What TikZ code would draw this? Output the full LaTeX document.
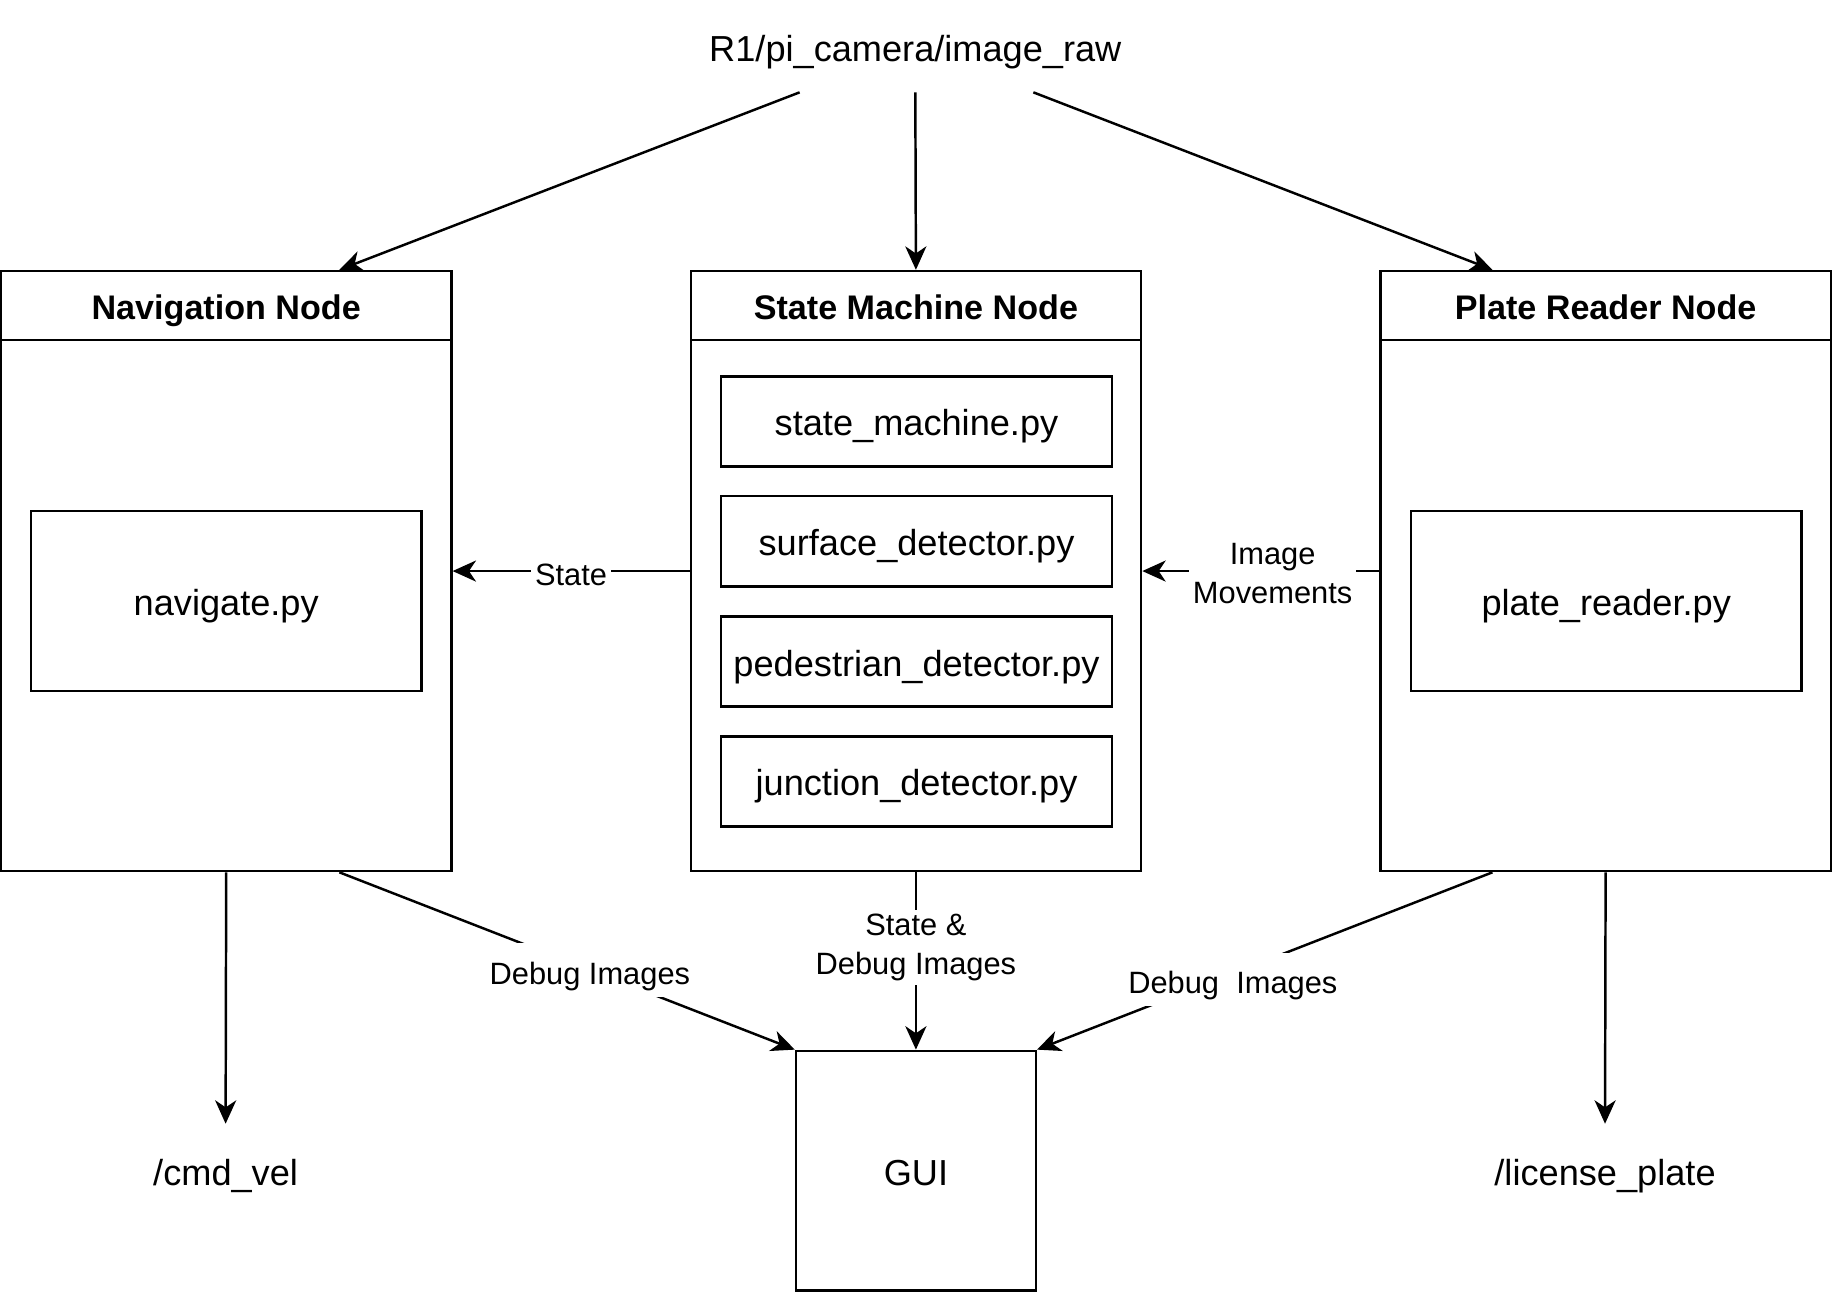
\documentclass[tikz,border=0pt]{standalone}
\usepackage{fontspec}
\setmainfont{Liberation Sans}
\usetikzlibrary{calc,arrows.meta}

\tikzset{
  line/.style={text height=0.9em, text depth=0.2em},
  nodebox/.style={draw, line width=0.6pt, minimum width=3.85cm, minimum height=5.13cm, inner sep=0pt},
  nodetitle/.style={line, draw, line width=0.6pt, minimum width=3.85cm, minimum height=0.59cm, inner sep=0pt, font=\fontsize{8.3}{10}\selectfont\bfseries},
  filebox/.style={line, draw, line width=0.6pt, minimum width=3.34cm, minimum height=0.77cm, inner sep=0pt, font=\fontsize{8.8}{10.5}\selectfont},
  topic/.style={line, minimum height=0.8cm, inner sep=0pt, font=\fontsize{8.8}{10.5}\selectfont},
  flow/.style={line width=0.6pt, -{Stealth[length=0.2cm, width=0.18cm, inset=0.06cm]}},
  tag/.style={fill=white, inner sep=1pt, align=center, font=\fontsize{7.5}{9.4}\selectfont},
}

\begin{document}
\begin{tikzpicture}[x=0.01cm, y=-0.01cm]
  \useasboundingbox (0,0) rectangle (1568,1106);

  % camera topic
  \node[topic] (cam) at (783,40) {R1/pi\_camera/image\_raw};
  \coordinate (cam left) at (684,79);
  \coordinate (cam mid) at (783,79);
  \coordinate (cam right) at (884,79);

  % the three ROS nodes
  \node[nodebox] (nav) at (193.5,488.5) {};
  \node[nodetitle, anchor=north] (nav title) at (nav.north) {Navigation Node};
  \node[filebox, minimum height=1.54cm] (navigate) at (193.5,514) {navigate.py};

  \node[nodebox] (sm) at (783.5,488.5) {};
  \node[nodetitle, anchor=north] (sm title) at (sm.north) {State Machine Node};
  \node[filebox] (smfile) at (784,360.5) {state\_machine.py};
  \node[filebox] (surface) at (784,463) {surface\_detector.py};
  \node[filebox] (pedestrian) at (784,566) {pedestrian\_detector.py};
  \node[filebox] (junction) at (784,668.5) {junction\_detector.py};

  \node[nodebox] (plate) at (1373.5,488.5) {};
  \node[nodetitle, anchor=north] (plate title) at (plate.north) {Plate Reader Node};
  \node[filebox, minimum height=1.54cm] (reader) at (1374,514) {plate\_reader.py};

  % outputs
  \node[line, draw, line width=0.6pt, minimum size=2.05cm, inner sep=0pt, font=\fontsize{8.8}{10.5}\selectfont] (gui) at (783.5,1001.5) {GUI};
  \node[topic] (cmd) at (193,1002) {/cmd\_vel};
  \node[topic] (lic) at (1373,1002) {/license\_plate};

  \draw[flow] (cam left) -- ($(nav.north west)!0.75!(nav.north east)$);
  \draw[flow] (cam mid) -- (sm.north);
  \draw[flow] (cam right) -- ($(plate.north west)!0.25!(plate.north east)$);

  \draw[flow] (sm.west) -- node[tag, line] {State} (nav.east);
  \draw[flow] (plate.west) -- node[tag, pos=0.45, yshift=-0.02cm] {Image\\Movements} (sm.east);

  \draw[flow] (nav.south) -- (cmd.north);
  \draw[flow] (plate.south) -- (lic.north);
  \draw[flow] ($(nav.south west)!0.75!(nav.south east)$) -- node[tag, line, pos=0.55] {Debug Images} (gui.north west);
  \draw[flow] (sm.south) -- node[tag, pos=0.41, yshift=-0.02cm] {State \&\\Debug Images} (gui.north);
  \draw[flow] ($(plate.south west)!0.25!(plate.south east)$) -- node[tag, line, pos=0.57, yshift=-0.05cm] {Debug\ \ Images} (gui.north east);
\end{tikzpicture}
\end{document}
